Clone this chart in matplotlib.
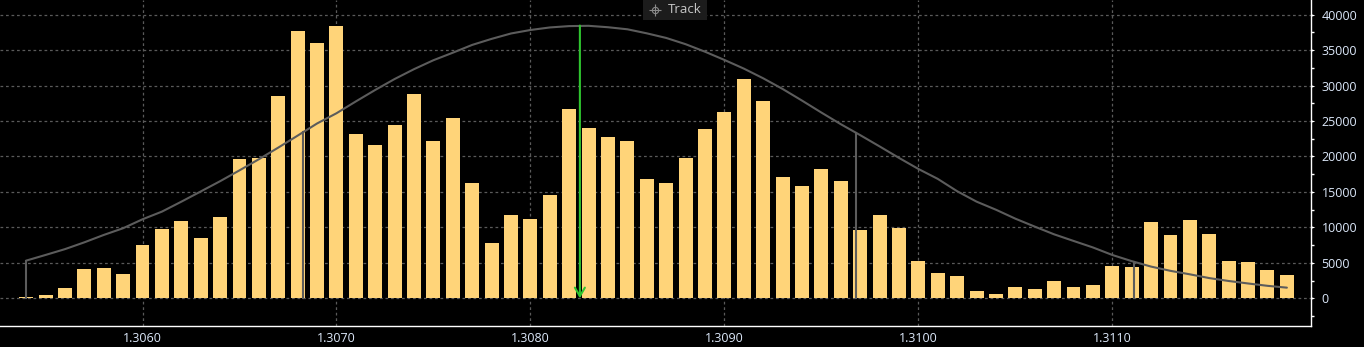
import numpy as np
import matplotlib
matplotlib.use('Agg')
import matplotlib.pyplot as plt
from matplotlib.path import Path
from matplotlib.ticker import MultipleLocator, FixedLocator
from matplotlib.patches import Rectangle
import matplotlib.transforms as mtransforms

# ---------------- data ----------------
prices = [1.3054, 1.3055, 1.3056, 1.3057, 1.3058, 1.3059, 1.3060, 1.3061, 1.3062, 1.3063,
          1.3064, 1.3065, 1.3066, 1.3067, 1.3068, 1.3069, 1.3070, 1.3071, 1.3072, 1.3073,
          1.3074, 1.3075, 1.3076, 1.3077, 1.3078, 1.3079, 1.3080, 1.3081, 1.3082, 1.3083,
          1.3084, 1.3085, 1.3086, 1.3087, 1.3088, 1.3089, 1.3090, 1.3091, 1.3092, 1.3093,
          1.3094, 1.3095, 1.3096, 1.3097, 1.3098, 1.3099, 1.3100, 1.3101, 1.3102, 1.3103,
          1.3104, 1.3105, 1.3106, 1.3107, 1.3108, 1.3109, 1.3110, 1.3111, 1.3112, 1.3113,
          1.3114, 1.3115, 1.3116, 1.3117, 1.3118, 1.3119]

volumes = [150, 470, 1500, 4200, 4300, 3400, 7500, 9800, 10900, 8500,
           11500, 19600, 19800, 28500, 37700, 36000, 38400, 23200, 21600, 24400,
           28800, 22200, 25400, 16300, 7800, 11750, 11200, 14600, 26700, 24000,
           22700, 22200, 16800, 16300, 19800, 23900, 26300, 30900, 27800, 17100,
           15800, 18200, 16500, 9600, 11750, 9900, 5260, 3570, 3150, 1030,
           610, 1600, 1320, 2440, 1600, 1880, 4560, 4420, 10760, 8930,
           11050, 9070, 5260, 5120, 4000, 3290]

curve = [5310, 6110, 6930, 7890, 8930, 9880, 11140, 12220, 13620, 15060,
         16510, 18040, 19610, 21250, 22940, 24650, 26090, 27760, 29380, 30920,
         32310, 33570, 34630, 35730, 36580, 37340, 37830, 38190, 38380, 38420,
         38220, 37930, 37360, 36710, 35830, 34770, 33610, 32390, 31020, 29520,
         27880, 26190, 24550, 23010, 21420, 19800, 18240, 16840, 15100, 13630,
         12490, 11230, 10110, 9020, 8090, 7170, 6110, 5240, 4470, 3870,
         3380, 2850, 2440, 2090, 1760, 1500]

sigma_lines = [1.30540, 1.30683, 1.30968, 1.31111]
mean_price = 1.308255
mean_peak = 38450

x_ticks = [1.3060, 1.3070, 1.3080, 1.3090, 1.3100, 1.3110]
x_tick_labels = ['1.3060', '1.3070', '1.3080', '1.3090', '1.3100', '1.3110']
y_ticks = [0, 5000, 10000, 15000, 20000, 25000, 30000, 35000, 40000]
y_tick_labels = ['0', '5000', '10000', '15000', '20000', '25000', '30000', '35000', '40000']

# ---------------- style ----------------
W, H = 1364, 347
BAR_COLOR = '#ffd479'
CURVE_COLOR = '#5c5c5c'
GRID_COLOR = '#5a5a5a'
LABEL_COLOR = '#dce8fa'
FONT = 'Open Sans'

fig = plt.figure(figsize=(W / 100, H / 100), dpi=100, facecolor='black')
ax = fig.add_axes([0, 21 / H, 1311 / W, 326 / H])
ax.set_facecolor('black')

ax.set_xlim(1.3052653, 1.3120244)
ax.set_ylim(-3906, 42060)

# grid
ax.set_axisbelow(True)
ax.xaxis.set_major_locator(FixedLocator(x_ticks))
ax.yaxis.set_major_locator(FixedLocator(y_ticks))
ax.yaxis.set_minor_locator(MultipleLocator(2500))
ax.grid(True, which='major', color=GRID_COLOR, linestyle=(0, (2.2, 2.2)), linewidth=0.9)

# bars
ax.bar(prices, volumes, width=0.000072, color=BAR_COLOR, zorder=2)

# distribution curve
ax.plot(prices, curve, color=CURVE_COLOR, linewidth=1.5, zorder=3, solid_capstyle='round')
for sx in sigma_lines:
    top = np.interp(sx, prices, curve)
    ax.plot([sx, sx], [0, top], color=CURVE_COLOR, linewidth=1.5, zorder=3)

# mean arrow
ax.annotate('', xy=(mean_price, 0), xytext=(mean_price, mean_peak),
            arrowprops=dict(arrowstyle='->,head_length=0.62,head_width=0.36',
                            color='#2fc52f', lw=1.5, shrinkA=0, shrinkB=0,
                            mutation_scale=10), zorder=4)

# spines
for s in ['top', 'left']:
    ax.spines[s].set_visible(False)
for s in ['bottom', 'right']:
    ax.spines[s].set_color('white')
    ax.spines[s].set_linewidth(1.0)

# ticks
ax.set_xticklabels(x_tick_labels)
ax.set_yticklabels(y_tick_labels)
ax.yaxis.tick_right()
ax.tick_params(axis='x', length=0, pad=4.0, labelsize=9, labelcolor=LABEL_COLOR)
ax.tick_params(axis='y', which='major', length=0, pad=7.5, labelsize=9, labelcolor=LABEL_COLOR,
               left=False, right=True)
ax.tick_params(axis='y', which='minor', length=2.5, width=1.0, color='white',
               left=False, right=True, direction='out')
for lab in ax.get_xticklabels() + ax.get_yticklabels():
    lab.set_fontfamily(FONT)

# triangle tick markers on right axis
tri = Path([(0, -0.32), (0, 0.32), (1, 0), (0, -0.32)],
           [Path.MOVETO, Path.LINETO, Path.LINETO, Path.CLOSEPOLY])
trans = mtransforms.blended_transform_factory(ax.transAxes, ax.transData)
ax.scatter([1.0] * len(y_ticks), y_ticks, marker=tri, s=30, color='white',
           transform=trans, clip_on=False, zorder=5, linewidths=0)

# "Track" label box
fig.patches.append(Rectangle((643 / W, 1 - 20 / H), 64 / W, 20 / H,
                             transform=fig.transFigure, facecolor='#1c1c1c',
                             edgecolor='none', zorder=10))
fig.text(668 / W, 1 - 9.5 / H, 'Track', color='#c8c8c8', fontsize=9.5,
         fontfamily=FONT, va='center', ha='left', zorder=11)
icon_x, icon_y = 655 / W, 1 - 9.5 / H
fig.lines.append(plt.Line2D([icon_x], [icon_y], transform=fig.transFigure, marker='o',
                            markersize=4.5, markerfacecolor='none', markeredgecolor='#8a8a8a',
                            markeredgewidth=0.8, zorder=11))
fig.lines.append(plt.Line2D([icon_x], [icon_y], transform=fig.transFigure, marker='+',
                            markersize=8, markeredgecolor='#8a8a8a',
                            markeredgewidth=0.8, zorder=11))

fig.savefig('out.png', dpi=100, facecolor='black')
